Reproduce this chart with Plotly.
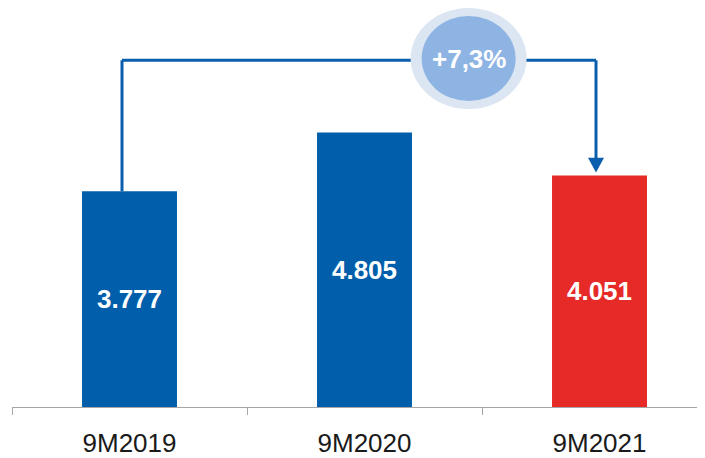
import plotly.graph_objects as go

categories = ["9M2019", "9M2020", "9M2021"]
values = [3.777, 4.805, 4.051]
value_labels = ["3.777", "4.805", "4.051"]
bar_colors = ["#005EAB", "#005EAB", "#E52A27"]
growth_label = "+7,3%"

x = list(range(len(categories)))

# pixel scales (plot area) used for decorations
PX_X = 235.0   # px per category unit
PX_Y = 57.7    # px per value unit

fig = go.Figure(go.Bar(
    x=x, y=values, width=0.404,
    marker=dict(color=bar_colors, line=dict(width=0)),
    text=value_labels, textposition="inside", insidetextanchor="middle",
    textfont=dict(family="Liberation Sans, Arial", size=26, color="white", weight="bold"),
    textangle=0, hoverinfo="skip",
))

line_col = "#0B5EAD"
y_br = 6.07
x_left = x[0] - 7.5 / PX_X
x_right = x[2] - 3.5 / PX_X
tip_y = values[2] + 3 / PX_Y
head_h = 15 / PX_Y
head_w = 8 / PX_X

shapes = [
    dict(type="line", xref="x", yref="y", x0=x_left, y0=values[0], x1=x_left, y1=y_br,
         line=dict(color=line_col, width=3)),
    dict(type="line", xref="x", yref="y", x0=x_left, y0=y_br, x1=x_right, y1=y_br,
         line=dict(color=line_col, width=3)),
    dict(type="line", xref="x", yref="y", x0=x_right, y0=y_br, x1=x_right, y1=tip_y + head_h - 0.02,
         line=dict(color=line_col, width=3)),
    dict(type="path", xref="x", yref="y",
         path=f"M {x_right - head_w} {tip_y + head_h} L {x_right + head_w} {tip_y + head_h} L {x_right} {tip_y} Z",
         fillcolor=line_col, line=dict(width=0)),
]

bx = 1.443
by = y_br + 0.03
shapes += [
    dict(type="circle", xref="x", yref="y", x0=bx - 58 / PX_X, x1=bx + 58 / PX_X,
         y0=by - 51 / PX_Y, y1=by + 51 / PX_Y, fillcolor="#DCE6F2", line=dict(width=0)),
    dict(type="circle", xref="x", yref="y", x0=bx - 47 / PX_X, x1=bx + 47 / PX_X,
         y0=by - 43 / PX_Y, y1=by + 43 / PX_Y, fillcolor="#8EB4E3", line=dict(width=0)),
]

fig.update_layout(
    width=697, height=450,
    margin=dict(l=4, r=0, t=0, b=47),
    paper_bgcolor="white", plot_bgcolor="white",
    showlegend=False,
    shapes=shapes,
    annotations=[dict(x=bx, y=by, xref="x", yref="y", text=growth_label, showarrow=False,
                      font=dict(family="Liberation Sans, Arial", size=26, color="white", weight="bold"))],
    xaxis=dict(
        range=[-0.5, -0.5 + 693 / PX_X], tickvals=x, ticktext=categories, ticks="",
        tickfont=dict(family="Liberation Sans, Arial", size=26, color="#1A1A1A"),
        showline=True, linecolor="#A6A6A6", linewidth=1, showgrid=False, zeroline=False,
        minor=dict(tickvals=[-0.5, 0.5, 1.5, 2.5], ticks="outside", ticklen=7, tickcolor="#A6A6A6", tickwidth=1, showgrid=False),
        ticklabelstandoff=13, fixedrange=True,
    ),
    yaxis=dict(range=[0, 403 / PX_Y], visible=False, fixedrange=True),
)

fig.write_html("out.html")
